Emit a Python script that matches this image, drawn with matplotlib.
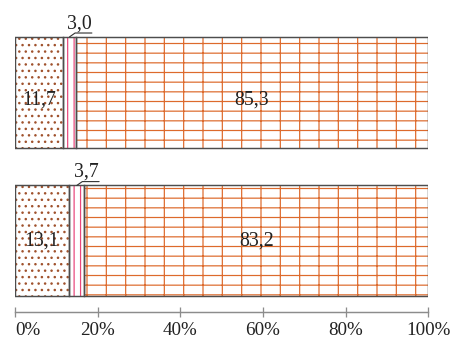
import matplotlib
matplotlib.use("Agg")
import matplotlib.pyplot as plt

plt.rcParams['font.family'] = ['Liberation Serif', 'DejaVu Serif']
plt.rcParams['hatch.linewidth'] = 0.75

# data (top bar first)
rows = ['bar1', 'bar2']
dotted = [11.7, 13.1]
pink = [3.0, 3.7]
grid = [85.3, 83.2]
dotted_labels = ['11,7', '13,1']
pink_labels = ['3,0', '3,7']
grid_labels = ['85,3', '83,2']
tick_values = [0, 20, 40, 60, 80, 100]
tick_labels = ['0%', '20%', '40%', '60%', '80%', '100%']

DPI = 116
fig = plt.figure(figsize=(453.2 / DPI, 347.2 / DPI), dpi=DPI)
ax = fig.add_axes([15 / 453, 35 / 347, 413 / 453, 282 / 347])

ypos = [1, 0]
label_shift = [-0.05, 0.0]
h = 0.747
outline = '#4d4d4d'
c_dot = '#a0522d'
c_pink = '#e8457a'
c_grid = '#dd6a2c'

for i, y in enumerate(ypos):
    d, p, g = dotted[i], pink[i], grid[i]
    segs = [(0, d, '...', c_dot), (d, p, '|||', c_pink), (d + p, g, '|--', c_grid)]
    for left, w, hatch, col in segs:
        ax.barh(y, w, left=left, height=h, color='white', edgecolor=col,
                linewidth=0, hatch=hatch, zorder=1)
        ax.barh(y, w, left=left, height=h, fill=False, edgecolor=outline,
                linewidth=0.9, zorder=2)
    ty = y + label_shift[i]
    ax.text(d / 2, ty, dotted_labels[i], ha='center', va='center',
            fontsize=12.3, color='#222222', zorder=3)
    ax.text(d + p + g / 2, ty, grid_labels[i], ha='center', va='center',
            fontsize=12.3, color='#222222', zorder=3)
    ax.annotate(pink_labels[i], xy=(d + p / 2, y + h / 2),
                xytext=(-1.5, 2.4), textcoords='offset points',
                ha='left', va='bottom', fontsize=12.3, color='#222222',
                arrowprops=dict(arrowstyle='-', color='#333333', lw=0.7,
                                shrinkA=0, shrinkB=0, relpos=(1, 0),
                                patchA=None, patchB=None,
                                connectionstyle='angle,angleA=0,angleB=35,rad=0'))

ax.set_xlim(0, 100)
ax.set_ylim(-0.478, 1.421)
for s in ['top', 'right', 'left']:
    ax.spines[s].set_visible(False)
ax.spines['bottom'].set_color('#8c8c8c')
ax.spines['bottom'].set_linewidth(0.9)
ax.set_yticks([])
ax.set_xticks(tick_values)
ax.set_xticklabels(tick_labels, fontsize=11.8, color='#222222')
ax.tick_params(axis='x', direction='inout', length=6.5, width=0.8,
               color='#8c8c8c', pad=3)
ax.get_xticklabels()[0].set_horizontalalignment('left')

fig.savefig('out.png', dpi=DPI)
